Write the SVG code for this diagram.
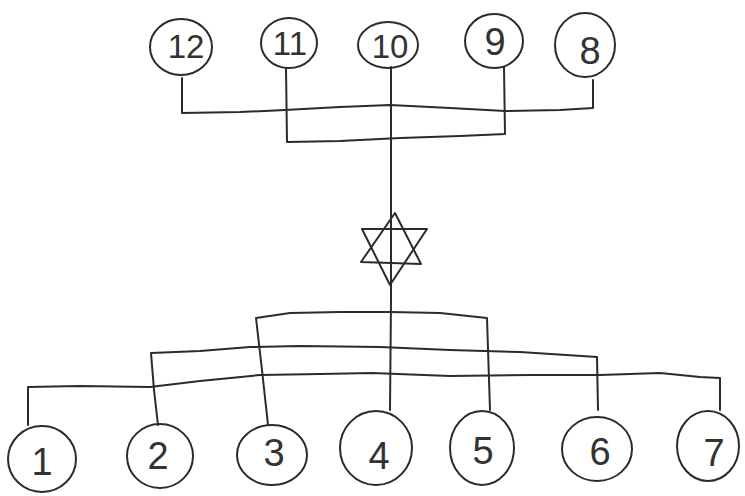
<svg xmlns="http://www.w3.org/2000/svg" width="745" height="496" viewBox="0 0 745 496">
<style>
.bg{fill:#ffffff}
.ln{fill:none;stroke:#2b2b2b;stroke-width:2;stroke-linecap:round;stroke-linejoin:round}
.nd{fill:none;stroke:#2b2b2b;stroke-width:2}
.lb{font-family:"Liberation Sans","DejaVu Sans",sans-serif;font-size:38px;fill:#333333;text-anchor:middle}
.lb2{font-size:33px}
</style>
<rect class="bg" x="0" y="0" width="745" height="496"/>
<g id="connectors">
  <path class="ln" d="M182,78 L182,113 L240,112 L285,110 L340,107 L390,105 L450,108 L505,111 L560,110 L593,108 L593,80"/>
  <path class="ln" d="M286,68 L287,142 L340,141 L400,138 L460,136 L505,134 L504,67"/>
  <path class="ln" d="M391,67 L391,150 L391,230 L391,300 L390,410"/>
  <path class="ln" d="M268,425 L262,370 L256,318 L290,313 L340,312 L390,312 L440,313 L487,318 L490,410"/>
  <path class="ln" d="M158,425 L154,390 L151,353 L200,351 L250,347 L300,346 L380,347 L450,350 L520,352 L597,357 L598,410"/>
  <path class="ln" d="M28,425 L28,387 L80,386 L150,387 L200,381 L260,375 L320,374 L372,373 L450,376 L530,375 L600,375 L660,373 L700,377 L720,378 L720,410"/>
</g>
<g id="star">
  <path class="ln" d="M395,213 L361,262 L421,264 Z"/>
  <path class="ln" d="M362,229 L427,229 L390,285 Z"/>
</g>
<g id="node12"><ellipse class="nd" cx="181" cy="47" rx="31" ry="28"/><text class="lb lb2" x="186" y="58">12</text></g>
<g id="node11"><ellipse class="nd" cx="289" cy="43" rx="28" ry="25"/><text class="lb lb2" x="290" y="55">11</text></g>
<g id="node10"><ellipse class="nd" cx="388" cy="45" rx="30" ry="23"/><text class="lb lb2" x="390" y="58">10</text></g>
<g id="node9"><ellipse class="nd" cx="494" cy="41" rx="29" ry="27"/><text class="lb" x="495" y="55">9</text></g>
<g id="node8"><ellipse class="nd" cx="585" cy="45" rx="30" ry="32"/><text class="lb" x="590" y="64">8</text></g>
<g id="node1"><ellipse class="nd" cx="42" cy="459" rx="34" ry="33"/><text class="lb" x="42" y="475">1</text></g>
<g id="node2"><ellipse class="nd" cx="160" cy="456" rx="33" ry="32"/><text class="lb" x="158" y="469">2</text></g>
<g id="node3"><ellipse class="nd" cx="272" cy="455" rx="35" ry="30"/><text class="lb" x="274" y="466">3</text></g>
<g id="node4"><ellipse class="nd" cx="376" cy="448" rx="36" ry="37"/><text class="lb" x="379" y="469">4</text></g>
<g id="node5"><ellipse class="nd" cx="482" cy="448" rx="32" ry="37"/><text class="lb" x="483" y="464">5</text></g>
<g id="node6"><ellipse class="nd" cx="597" cy="449" rx="35" ry="32"/><text class="lb" x="600" y="465">6</text></g>
<g id="node7"><ellipse class="nd" cx="708" cy="446" rx="31" ry="35"/><text class="lb" x="714" y="466">7</text></g>
</svg>
